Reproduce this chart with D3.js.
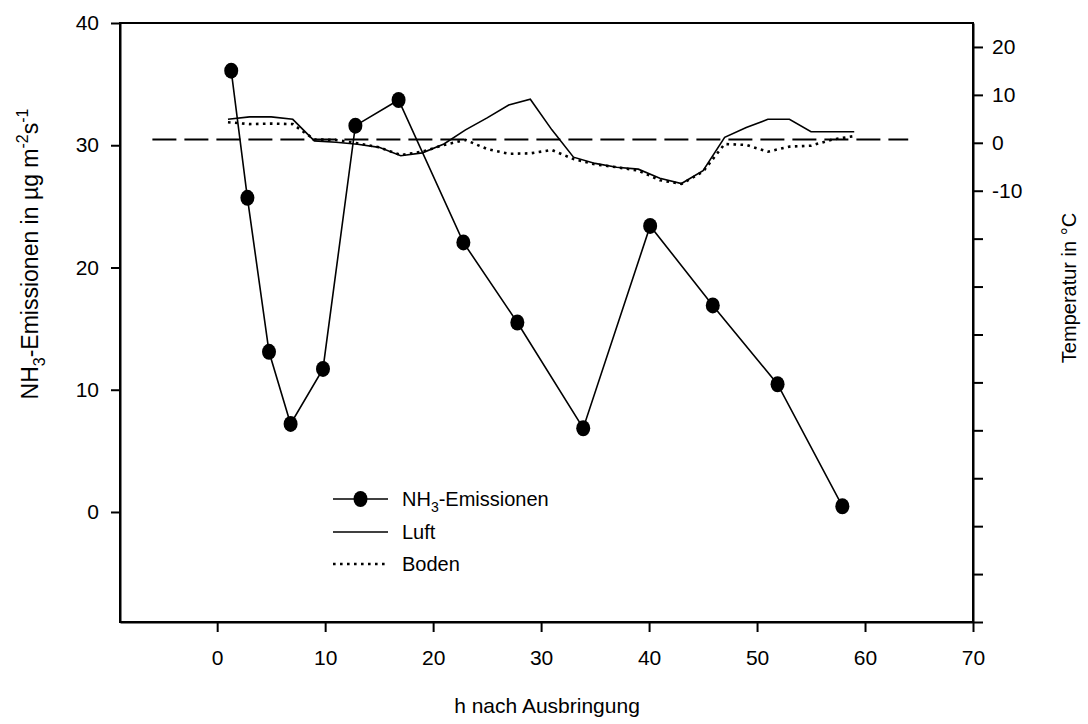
<!DOCTYPE html>
<html>
<head>
<meta charset="utf-8">
<script src="https://cdn.jsdelivr.net/npm/d3@7/dist/d3.min.js"></script>
<style>
  html, body { margin: 0; padding: 0; background: #fff; }
  svg { display: block; font-family: "Liberation Sans", Arial, sans-serif; }
</style>
</head>
<body>
<svg id="chart" width="1088" height="724"></svg>
<script>
// NH3 emissions (µg m-2 s-1) by hours after application
const emissionHours = [1.3, 2.8, 4.8, 6.8, 9.8, 12.8, 16.8, 22.8, 27.8, 33.9, 40.1, 45.9, 51.9, 57.9];
const emissionValues = [36.1, 25.7, 13.1, 7.2, 11.7, 31.6, 33.7, 22.05, 15.5, 6.85, 23.4, 16.9, 10.45, 0.47];

// Air and soil temperature (°C), two-hourly
const tempHours = [1, 3, 5, 7, 9, 11, 13, 15, 17, 19, 21, 23, 25, 27, 29, 31, 33, 35, 37, 39, 41, 43, 45, 47, 49, 51, 53, 55, 57, 59];
const luftValues = [4.9, 5.4, 5.4, 4.9, 0.4, 0.1, -0.3, -0.95, -2.7, -2.1, -0.25, 2.7, 5.2, 7.9, 9.1, 2.7,
                    -3.0, -4.3, -5.1, -5.5, -7.4, -8.5, -5.8, 1.15, 3.2, 4.9, 4.9, 2.3, 2.3, 2.3];
const bodenValues = [4.3, 3.9, 4.0, 3.9, 0.7, 0.6, -0.1, -0.95, -2.55, -1.85, -0.45, 0.6, -1.3, -2.3, -2.2, -1.5,
                     -3.4, -4.5, -5.1, -5.8, -7.8, -8.6, -6.0, -0.25, -0.45, -1.85, -0.8, -0.6, 0.7, 1.4];

// Dashed reference line on the temperature axis
const refLineHours = [-6, 64];
const refLineTemp = [0.7, 0.7];

// Axis ticks
const xTicks = [0, 10, 20, 30, 40, 50, 60, 70];
const yLeftTicks = [0, 10, 20, 30, 40];
const yRightTicks = [-100, -90, -80, -70, -60, -50, -40, -30, -20, -10, 0, 10, 20];
const yRightLabelled = [-10, 0, 10, 20];

const svg = d3.select("#chart");

const plotLeft = 120, plotRight = 973, plotTop = 23, plotBottom = 622;

const x = d3.scaleLinear().domain([-9, 70]).range([plotLeft, plotRight]);
const yL = d3.scaleLinear().domain([-9, 40]).range([plotBottom, plotTop]);
const yR = d3.scaleLinear().domain([-100, 25]).range([plotBottom, plotTop]);

// Frame
svg.append("rect")
  .attr("x", plotLeft).attr("y", plotTop)
  .attr("width", plotRight - plotLeft).attr("height", plotBottom - plotTop)
  .attr("fill", "none").attr("stroke", "#000").attr("stroke-width", 2);

function styleAxis(g) {
  g.select(".domain").attr("stroke", "#000").attr("stroke-width", 2);
  g.selectAll(".tick line").attr("stroke", "#000").attr("stroke-width", 2);
  g.selectAll(".tick text").attr("fill", "#000")
    .style("font-family", "'Liberation Sans', Arial, sans-serif")
    .style("font-size", "21px");
}

// Bottom axis
svg.append("g")
  .attr("transform", `translate(0,${plotBottom})`)
  .call(d3.axisBottom(x).tickValues(xTicks).tickSize(10).tickPadding(18).tickSizeOuter(0))
  .call(styleAxis);

// Left axis
svg.append("g")
  .attr("transform", `translate(${plotLeft},0)`)
  .call(d3.axisLeft(yL).tickValues(yLeftTicks).tickSize(9).tickPadding(12).tickSizeOuter(0))
  .call(styleAxis);

// Right axis (temperature)
svg.append("g")
  .attr("transform", `translate(${plotRight},0)`)
  .call(d3.axisRight(yR).tickValues(yRightTicks).tickSize(10).tickPadding(9).tickSizeOuter(0)
    .tickFormat(d => yRightLabelled.includes(d) ? String(d) : ""))
  .call(styleAxis);

// Dashed reference line
svg.append("path")
  .datum(refLineHours.map((h, i) => [h, refLineTemp[i]]))
  .attr("fill", "none").attr("stroke", "#000").attr("stroke-width", 2)
  .attr("stroke-dasharray", "24,8")
  .attr("d", d3.line().x(d => x(d[0])).y(d => yR(d[1])));

const tempLine = d3.line().x(d => x(d[0])).y(d => yR(d[1]));

// Air temperature
svg.append("path")
  .datum(tempHours.map((h, i) => [h, luftValues[i]]))
  .attr("fill", "none").attr("stroke", "#000").attr("stroke-width", 1.6)
  .attr("d", tempLine);

// Soil temperature
svg.append("path")
  .datum(tempHours.map((h, i) => [h, bodenValues[i]]))
  .attr("fill", "none").attr("stroke", "#000").attr("stroke-width", 2.6)
  .attr("stroke-dasharray", "2.6,4.4")
  .attr("d", tempLine);

// Emissions line and markers
const emData = emissionHours.map((h, i) => [h, emissionValues[i]]);
svg.append("path")
  .datum(emData)
  .attr("fill", "none").attr("stroke", "#000").attr("stroke-width", 1.6)
  .attr("d", d3.line().x(d => x(d[0])).y(d => yL(d[1])));

svg.append("g").selectAll("ellipse")
  .data(emData)
  .join("ellipse")
  .attr("cx", d => x(d[0])).attr("cy", d => yL(d[1]))
  .attr("rx", 7).attr("ry", 8).attr("fill", "#000");

// Legend
const legend = svg.append("g").attr("font-size", 20);
const lgX0 = 333, lgX1 = 388, lgText = 402;
const rows = [499, 532, 564];

legend.append("line").attr("x1", lgX0).attr("x2", lgX1).attr("y1", rows[0]).attr("y2", rows[0])
  .attr("stroke", "#000").attr("stroke-width", 1.6);
legend.append("ellipse").attr("cx", (lgX0 + lgX1) / 2).attr("cy", rows[0]).attr("rx", 7).attr("ry", 8);
const t0 = legend.append("text").attr("x", lgText).attr("y", rows[0] + 7);
t0.append("tspan").text("NH");
t0.append("tspan").attr("font-size", 14).attr("dy", 6).text("3");
t0.append("tspan").attr("dy", -6).text("-Emissionen");

legend.append("line").attr("x1", lgX0).attr("x2", lgX1).attr("y1", rows[1]).attr("y2", rows[1])
  .attr("stroke", "#000").attr("stroke-width", 1.6);
legend.append("text").attr("x", lgText).attr("y", rows[1] + 7).text("Luft");

legend.append("line").attr("x1", lgX0).attr("x2", lgX1).attr("y1", rows[2]).attr("y2", rows[2])
  .attr("stroke", "#000").attr("stroke-width", 2.6).attr("stroke-dasharray", "2.6,4.4");
legend.append("text").attr("x", lgText).attr("y", rows[2] + 7).text("Boden");

// Axis titles
svg.append("text")
  .attr("x", 547).attr("y", 713)
  .attr("text-anchor", "middle").attr("font-size", 21)
  .text("h nach Ausbringung");

const yTitle = svg.append("text")
  .attr("transform", "translate(38,254) rotate(-90)")
  .attr("text-anchor", "middle").attr("font-size", 23);
yTitle.append("tspan").text("NH");
yTitle.append("tspan").attr("font-size", 16).attr("dy", 7).text("3");
yTitle.append("tspan").attr("dy", -7).text("-Emissionen in µg m");
yTitle.append("tspan").attr("font-size", 16).attr("dy", -10).text("-2");
yTitle.append("tspan").attr("dy", 10).text("s");
yTitle.append("tspan").attr("font-size", 16).attr("dy", -10).text("-1");

svg.append("text")
  .attr("transform", "translate(1076,288) rotate(-90)")
  .attr("text-anchor", "middle").attr("font-size", 20)
  .text("Temperatur in °C");
</script>
</body>
</html>
